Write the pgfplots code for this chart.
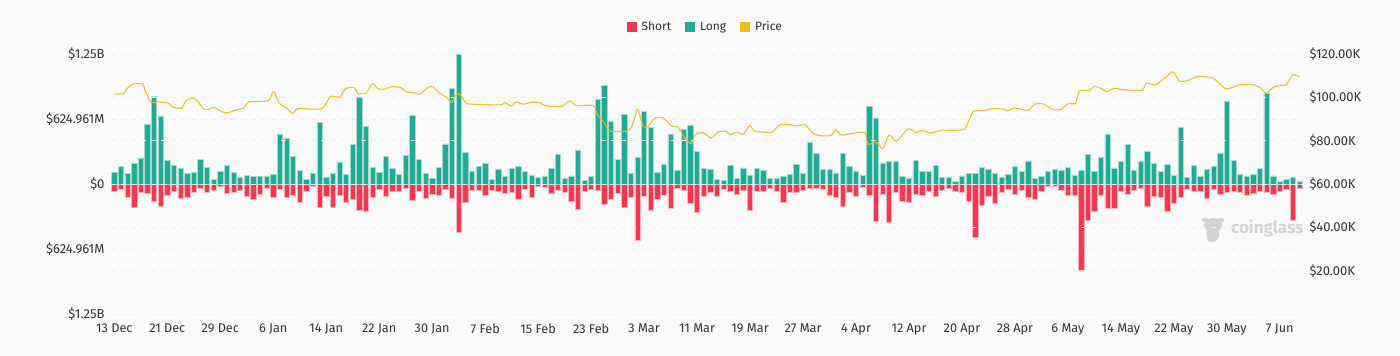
\documentclass[border=0pt]{standalone}
\usepackage{pgfplots}
\usepackage{pgfplotstable}
\usepackage{fontspec}
\setmainfont{Fira Sans}
\pgfplotsset{compat=1.18}
\definecolor{bgc}{HTML}{FAFAFA}
\definecolor{longc}{HTML}{22AB94}
\definecolor{longe}{HTML}{A4DCD2}
\definecolor{shortc}{HTML}{F7374F}
\definecolor{shorte}{HTML}{FBB4BC}
\definecolor{pricec}{HTML}{F3BA0F}
\definecolor{gridc}{HTML}{EEEEEE}
\definecolor{txt}{HTML}{333333}
\definecolor{wm}{HTML}{D2D2D2}
\pgfplotstableread{
idx long short
0 112 -74
1 173 -48
2 103 -125
3 196 -221
4 250 -83
5 577 -93
6 843 -163
7 654 -218
8 224 -112
9 179 -74
10 151 -138
11 103 -131
12 112 -83
13 234 -45
14 160 -77
15 45 -58
16 119 -26
17 183 -90
18 109 -83
19 64 -64
20 83 -119
21 71 -147
22 71 -96
23 77 -45
24 96 -128
25 481 -54
26 442 -131
27 263 -106
28 128 -179
29 48 -74
30 103 -26
31 590 -224
32 61 -122
33 103 -221
34 212 -106
35 90 -179
36 378 -144
37 830 -253
38 554 -266
39 160 -131
40 115 -51
41 266 -119
42 147 -74
43 93 -67
44 276 -45
45 660 -160
46 237 -74
47 103 -138
48 54 -96
49 163 -109
50 385 -48
51 920 -141
52 1250 -468
53 301 -179
54 119 -64
55 173 -61
56 199 -106
57 45 -58
58 141 -74
59 71 -87
60 151 -83
61 167 -147
62 122 -54
63 87 -125
64 64 -26
65 77 -29
66 147 -90
67 282 -61
68 54 -80
69 77 -170
70 327 -240
71 38 -67
72 74 -48
73 817 -64
74 945 -199
75 606 -151
76 237 -93
77 673 -221
78 103 -128
79 256 -542
80 695 -115
81 542 -250
82 112 -144
83 189 -112
84 481 -234
85 135 -38
86 526 -58
87 567 -183
88 317 -276
89 151 -115
90 141 -77
91 45 -119
92 35 -48
93 179 -71
94 54 -103
95 154 -61
96 83 -256
97 147 -67
98 128 -74
99 51 -45
100 51 -71
101 71 -176
102 93 -77
103 189 -77
104 103 -61
105 404 -42
106 298 -38
107 138 -51
108 141 -112
109 106 -131
110 292 -218
111 173 -80
112 122 -122
113 83 -29
114 744 -106
115 635 -359
116 202 -96
117 215 -372
118 215 -77
119 74 -170
120 58 -176
121 224 -99
122 119 -106
123 122 -71
124 176 -119
125 61 -58
126 64 -42
127 26 -71
128 77 -83
129 103 -170
130 103 -516
131 160 -208
132 141 -122
133 103 -183
134 67 -80
135 96 -48
136 170 -103
137 119 -61
138 215 -128
139 54 -151
140 71 -67
141 122 -26
142 141 -26
143 128 -61
144 163 -112
145 87 -112
146 131 -833
147 285 -346
148 122 -266
149 256 -109
150 478 -231
151 154 -237
152 221 -74
153 381 -96
154 135 -61
155 221 -42
156 314 -212
157 202 -115
158 119 -125
159 192 -260
160 87 -186
161 548 -128
162 67 -48
163 179 -74
164 71 -74
165 144 -138
166 170 -48
167 295 -99
168 795 -83
169 228 -74
170 93 -77
171 77 -106
172 93 -87
173 151 -71
174 872 -83
175 77 -99
176 29 -71
177 45 -48
178 67 -353
179 29 -38
}\bars
\pgfplotstableread{
idx price
0 101.5
1.36 101.8
1.96 104.2
2.87 106.1
4.28 106.2
4.63 103.5
5.48 97.9
6.89 97.9
8.15 97.3
8.91 95.4
10.16 95.0
10.82 98.5
11.67 99.6
12.43 98.8
13.43 94.7
14.04 94.3
15.04 95.3
16.2 93.4
17.06 92.8
18.47 94.2
19.47 95.0
20.38 97.9
23.25 98.4
23.9 102.4
24.25 101.9
24.9 97.3
26.01 95.0
26.92 92.5
27.77 94.8
31.3 94.7
32.65 100.4
34.06 100.1
34.82 103.8
35.82 104.7
36.33 104.2
36.83 101.6
38.09 102.2
38.99 106.4
39.85 103.9
41.0 103.9
41.86 104.9
43.12 104.7
44.13 102.5
45.13 102.2
46.14 101.5
47.4 104.7
48.15 104.9
49.16 101.9
50.16 100.1
50.92 97.7
51.42 100.4
52.03 101.6
52.68 99.3
53.44 97.0
58.2 96.5
58.96 97.6
59.97 95.9
60.72 97.9
61.73 96.8
62.99 97.7
64.25 97.6
65.0 96.2
67.52 95.7
68.77 98.4
69.78 96.2
72.3 96.2
73.05 91.4
73.81 89.1
74.81 84.5
77.59 84.5
78.34 88.0
78.95 94.5
79.35 91.9
79.85 86.5
80.6 86.5
81.61 90.3
82.87 90.6
84.13 86.8
85.13 86.2
86.14 81.1
87.15 78.6
87.65 82.6
88.9 83.8
90.16 81.1
91.17 84.1
92.43 84.3
93.03 82.6
93.94 84.1
94.95 82.9
95.95 86.9
96.71 84.5
99.23 83.8
100.48 87.4
101.99 87.4
103.0 86.8
104.26 87.4
105.51 83.4
106.52 82.3
108.28 82.4
108.88 85.2
109.79 82.6
111.55 83.4
113.31 83.8
113.81 78.4
115.07 79.2
116.08 76.3
116.98 82.6
118.09 79.7
119.86 85.4
121.11 83.7
122.02 84.8
123.13 83.5
125.14 84.9
126.15 84.8
128.41 85.4
129.67 93.4
131.18 93.9
132.69 94.8
133.7 94.7
134.44 94.5
134.94 93.7
135.95 95.1
137.96 94.0
138.96 96.8
140.22 97.0
141.73 94.3
142.99 94.5
143.99 97.0
145.15 97.3
145.75 103.0
147.26 103.2
148.02 105.0
149.03 104.1
149.88 102.7
151.04 104.2
152.3 103.5
155.22 103.3
155.82 106.6
157.08 105.7
158.34 108.1
159.84 111.8
160.85 107.5
162.11 107.8
163.62 109.6
165.89 108.9
167.9 103.9
169.91 105.8
171.92 105.8
173.03 104.5
173.94 101.9
175.19 105.0
176.95 105.8
177.96 110.4
178.97 109.5
}\pricetab
\begin{document}
\begin{tikzpicture}[x=1pt,y=1pt]
\fill[bgc] (0,0) rectangle (1400,356);
% watermark
\node[anchor=west,text=wm,font=\bfseries\fontsize{17}{18}\selectfont,inner sep=0] at (1231,128) {coinglass};
\fill[wm] (1213,131) ellipse (9 and 7);
\fill[wm] (1213,122) ellipse (6.5 and 7);
\fill[wm] (1205,136) ellipse (3.5 and 2);
\fill[wm] (1221,136) ellipse (3.5 and 2);
\fill[wm] (1212,117) ellipse (5 and 3);
\begin{axis}[
  at={(111pt,42pt)},anchor=south west,scale only axis,
  width=1192pt,height=260pt,
  xmin=-0.5,xmax=179.5,ymin=-1250,ymax=1250,
  axis line style={draw=none},
  major tick length=0pt,
  xtick={0,8,16,24,32,40,48,56,64,72,80,88,96,104,112,120,128,136,144,152,160,168,176},
  xticklabels={13 Dec,21 Dec,29 Dec,6 Jan,14 Jan,22 Jan,30 Jan,7 Feb,15 Feb,23 Feb,3 Mar,11 Mar,19 Mar,27 Mar,4 Apr,12 Apr,20 Apr,28 Apr,6 May,14 May,22 May,30 May,7 Jun},
  ytick={-1250,-625,0,625,1250},
  yticklabels={\$1.25B,\$624.961M,\$0,\$624.961M,\$1.25B},
  ymajorgrids,
  grid style={gridc,line width=0.8pt,dash pattern=on 5pt off 5pt},
  yticklabel style={anchor=east,xshift=-3pt,font=\fontsize{13}{15}\selectfont,text=txt},
  xticklabel style={yshift=-6pt,font=\fontsize{12.7}{15}\selectfont,text=txt},
  legend style={at={(0.4985,1.104)},anchor=center,draw=none,fill=none,legend columns=3,
    font=\fontsize{12}{14}\selectfont,text=txt,
    /tikz/every even column/.append style={column sep=12pt},inner sep=0pt},
  legend cell align=left,
  legend image code/.code={\path[#1,draw=none] (0pt,-5pt) rectangle (10pt,5pt);\path[draw=none,fill=none] (0pt,0pt) -- (13pt,0pt);},
  clip=false,
]
\addlegendimage{fill=shortc}
\addlegendentry{Short}
\addlegendimage{fill=longc}
\addlegendentry{Long}
\addlegendimage{fill=pricec}
\addlegendentry{Price}
\addplot[ybar,bar width=5.3pt,bar shift=0pt,fill=shortc,draw=shorte,line width=0.6pt,forget plot] table[x=idx,y=short] {\bars};
\addplot[ybar,bar width=5.3pt,bar shift=0pt,fill=longc,draw=longe,line width=0.6pt,forget plot] table[x=idx,y=long] {\bars};
\end{axis}
\begin{axis}[
  at={(111pt,42pt)},anchor=south west,scale only axis,
  width=1192pt,height=260pt,
  xmin=-0.5,xmax=179.5,ymin=0,ymax=120,
  axis line style={draw=none},
  major tick length=0pt,
  xtick=\empty,
  axis y line*=right,
  axis x line=none,
  ytick={0,20,40,60,80,100,120},
  yticklabels={,\$20.00K,\$40.00K,\$60.00K,\$80.00K,\$100.00K,\$120.00K},
  ymajorgrids,
  grid style={gridc,line width=0.8pt,dash pattern=on 5pt off 5pt},
  yticklabel style={anchor=west,xshift=3pt,font=\fontsize{13}{15}\selectfont,text=txt},
]
\addplot[pricec,line width=1.1pt,smooth,tension=0.35,opacity=0.9] table[x=idx,y=price] {\pricetab};
\end{axis}
\end{tikzpicture}
\end{document}
